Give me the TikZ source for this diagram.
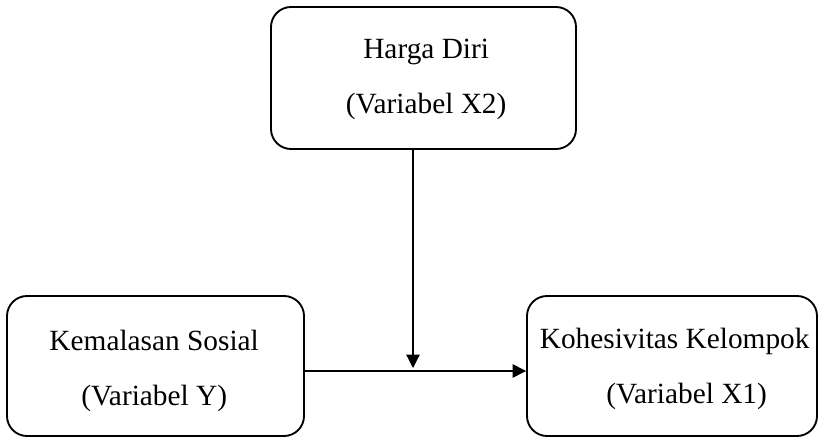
\documentclass[tikz,border=0pt]{standalone}
\usepackage{fontspec}
\setmainfont{Liberation Serif}
\usetikzlibrary{arrows.meta}
\begin{document}
\begin{tikzpicture}[x=0.75pt,y=-0.75pt,
  box/.style={draw=black, line width=1.4pt, rounded corners=15pt, inner sep=0pt},
  lbl/.style={align=center, font=\fontsize{22}{41}\selectfont, inner sep=0pt},
  conn/.style={line width=0.9pt, -{Triangle[length=10pt,width=10pt]}}]
\useasboundingbox (0,0) rectangle (820,438);
% boxes
\node[box, minimum width=305*0.75pt, minimum height=142*0.75pt] (hd) at (423.5,78) {};
\node[box, minimum width=297*0.75pt, minimum height=140*0.75pt] (ks) at (155.5,366) {};
\node[box, minimum width=290*0.75pt, minimum height=140*0.75pt] (kk) at (672,366) {};
% labels
\node[lbl] (hdt) at ([xshift=2pt,yshift=-1.2pt]hd.center) {Harga Diri\\(Variabel X2)};
\node[lbl] (kst) at ([xshift=-1pt,yshift=-3.5pt]ks.center) {Kemalasan Sosial\\(Variabel Y)};
\node[lbl] (kkt) at ([xshift=2pt,yshift=-2pt]kk.center) {Kohesivitas Kelompok\\\hspace*{18pt}(Variabel X1)};
% connectors
\coordinate (tip) at (413,368);
\coordinate (hstart) at (303,371);
\draw[conn] (hstart) -- (hstart -| kk.west);
\draw[conn] (hd.south -| tip) -- (tip);
\end{tikzpicture}
\end{document}
